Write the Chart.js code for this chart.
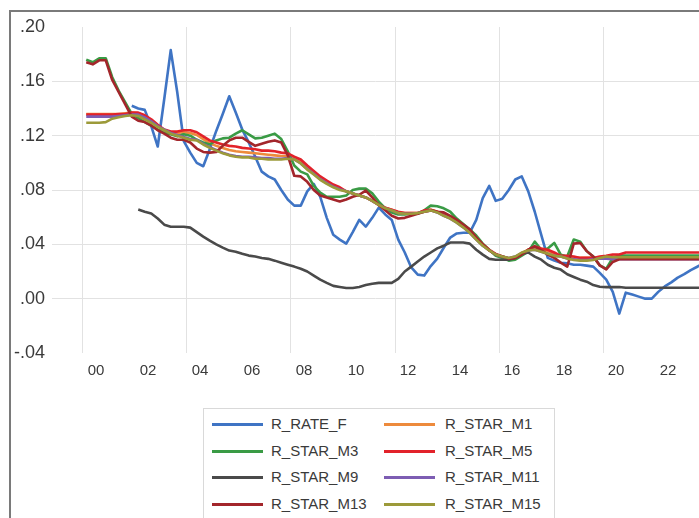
<!DOCTYPE html>
<html>
<head>
<meta charset="utf-8">
<script src="https://cdn.jsdelivr.net/npm/chart.js@4/dist/chart.umd.min.js"></script>
<style>
  html, body { margin: 0; padding: 0; background: #fff; }
  #wrap { position: relative; width: 699px; height: 518px; overflow: hidden; background: #fff; }
  #frame { position: absolute; left: 9px; top: 10px; width: 720px; height: 540px;
           border-left: 2px solid #7a7a7a; border-top: 2px solid #7a7a7a; }
  #c { position: absolute; left: 0; top: 0; }
  #legend { position: absolute; left: 203px; top: 408px; width: 350px; height: 130px;
            border: 1px solid #d9d9d9; background: #fff; }
  .item { position: absolute; height: 20px; font-family: "Liberation Sans", Arial, sans-serif;
          font-size: 15px; color: #3a3a3a; line-height: 20px; white-space: nowrap; }
  .sw { position: absolute; top: 9px; width: 51px; height: 2.5px; }
  .lb { position: absolute; top: 0; }
</style>
</head>
<body>
<div id="wrap">
  <div id="frame"></div>
  <canvas id="c" width="699" height="518"></canvas>
  <div id="legend"></div>
</div>
<script>
// ---- categories (quarters 2000Q1 .. 2023Q4) ----
const startYear = 2000;
const quarters = [];
for (let y = startYear; y <= 2023; y++) for (let q = 1; q <= 4; q++) quarters.push(y + "Q" + q);

const xTickYears = [2000, 2002, 2004, 2006, 2008, 2010, 2012, 2014, 2016, 2018, 2020, 2022];
const yTicks = [-0.04, 0.00, 0.04, 0.08, 0.12, 0.16, 0.20];

const seriesNames = ["R_RATE_F", "R_STAR_M1", "R_STAR_M3", "R_STAR_M5", "R_STAR_M9", "R_STAR_M11", "R_STAR_M13", "R_STAR_M15"];
const seriesColors = ["#3f74c4", "#ed8a3c", "#3a9b45", "#e2222a", "#4a4a4a", "#7d5db3", "#a3262b", "#9c9a3a"];

const R_RATE_F = [
  null,null,null,null,null,null,null,.142,
  .140,.139,.127,.112,.147,.183,.152,.116,
  .1075,.100,.0975,.110,.1235,.136,.149,.137,
  .1245,.115,.1045,.0935,.090,.0877,.080,.073,
  .0685,.0685,.079,.0845,.075,.0595,.047,.0435,
  .0405,.049,.058,.053,.0595,.067,.062,.058,
  .0435,.034,.023,.0177,.017,.024,.0295,.0375,
  .045,.048,.0485,.0485,.058,.074,.083,.072,
  .0735,.080,.0877,.090,.079,.064,.047,.030,
  .028,.0265,.026,.025,.025,.0243,.0236,.019,
  .014,.005,-.011,.0044,.003,.0015,.000,.000,
  .005,.009,.012,.0155,.018,.021,.0235,.026
];
const R_STAR_M1 = [
  .136,.136,.136,.136,.136,.136,.1365,.137,
  .1365,.1345,.1315,.1275,.124,.1225,.122,.1225,
  .122,.1205,.1175,.1145,.1125,.111,.1095,.1085,
  .108,.1075,.107,.1065,.106,.1055,.105,.105,
  .1035,.101,.097,.093,.089,.086,.083,.081,
  .079,.0775,.076,.0745,.072,.069,.067,.0655,
  .0635,.063,.063,.063,.0645,.0655,.064,.0615,
  .0595,.0565,.053,.049,.044,.0395,.0355,.0325,
  .031,.0295,.0305,.0335,.036,.0375,.036,.035,
  .033,.0315,.031,.0305,.030,.030,.030,.0305,
  .031,.031,.031,.031,.031,.031,.031,.031,
  .031,.031,.031,.031,.031,.031,.031,.031
];
const R_STAR_M3 = [
  .176,.174,.177,.177,.163,.153,.1445,.136,
  .133,.130,.1275,.1245,.122,.121,.1195,.121,
  .120,.117,.115,.1135,.1165,.118,.1185,.1215,
  .124,.121,.118,.1185,.120,.1215,.1175,.1085,
  .098,.0935,.0915,.083,.078,.075,.075,.075,
  .076,.080,.081,.081,.0775,.0715,.0665,.0635,
  .062,.062,.0625,.0625,.065,.0685,.068,.0665,
  .064,.059,.055,.051,.0465,.0405,.036,.0315,
  .030,.028,.0287,.0317,.0346,.042,.036,.037,
  .041,.0324,.031,.0435,.042,.035,.031,.0245,
  .022,.030,.0318,.0318,.0318,.0318,.0318,.0318,
  .0318,.0318,.0318,.0318,.0318,.0318,.0318,.0318
];
const R_STAR_M5 = [
  .1355,.1355,.1355,.1355,.1355,.136,.136,.137,
  .137,.135,.132,.128,.1245,.123,.123,.124,
  .124,.1225,.1195,.1165,.115,.1135,.1125,.112,
  .111,.1105,.110,.109,.109,.1085,.1075,.107,
  .1045,.1025,.098,.094,.090,.087,.084,.082,
  .079,.0775,.076,.0745,.072,.069,.067,.0655,
  .064,.063,.063,.063,.065,.0655,.064,.062,
  .0595,.057,.053,.050,.045,.040,.036,.033,
  .031,.0295,.030,.033,.036,.0385,.037,.036,
  .034,.0315,.0315,.031,.030,.030,.030,.031,
  .0315,.0325,.0325,.034,.034,.034,.034,.034,
  .034,.034,.034,.034,.034,.034,.034,.034
];
const R_STAR_M9 = [
  null,null,null,null,null,null,null,null,
  .0656,.064,.0627,.059,.0545,.053,.053,.053,
  .0523,.049,.0457,.0427,.040,.0376,.0354,.0346,
  .033,.0317,.031,.030,.0293,.028,.0265,.025,
  .0236,.022,.020,.017,.014,.0116,.0094,.0086,
  .0079,.0079,.0086,.010,.011,.0116,.0116,.0116,
  .0145,.020,.0236,.0273,.031,.034,.037,.039,
  .0413,.0413,.0413,.0405,.036,.0324,.0293,.0287,
  .0287,.0287,.030,.033,.034,.031,.0287,.025,
  .0228,.0214,.018,.016,.014,.0125,.010,.0088,
  .0085,.0085,.0086,.008,.008,.008,.008,.008,
  .008,.008,.008,.008,.008,.008,.008,.008
];
const R_STAR_M11 = [
  .134,.134,.134,.134,.134,.1345,.135,.1355,
  .1355,.1335,.1305,.127,.1245,.122,.1205,.119,
  .1175,.117,.114,.1115,.1095,.1075,.106,.105,
  .1045,.1045,.104,.1035,.1035,.103,.103,.1035,
  .1025,.0995,.0955,.092,.088,.085,.0825,.0805,
  .079,.0775,.076,.0745,.072,.069,.0665,.065,
  .063,.0625,.0625,.063,.064,.065,.0635,.061,
  .059,.056,.0525,.0485,.0435,.039,.0355,.0325,
  .031,.030,.031,.0335,.0355,.036,.0345,.033,
  .0315,.031,.0295,.029,.0285,.0285,.029,.0295,
  .0295,.029,.029,.029,.029,.029,.029,.029,
  .029,.029,.029,.029,.029,.029,.029,.029
];
const R_STAR_M13 = [
  .174,.1725,.1755,.1755,.161,.152,.143,.134,
  .131,.130,.1275,.124,.1215,.1185,.117,.117,
  .115,.1105,.108,.1075,.108,.1125,.1165,.1185,
  .1185,.1155,.1125,.114,.1155,.1165,.115,.1055,
  .0905,.090,.086,.080,.076,.0745,.073,.0715,
  .073,.075,.0765,.0795,.0745,.069,.065,.061,
  .059,.0595,.061,.0625,.064,.065,.064,.0635,
  .061,.058,.0545,.051,.045,.040,.0355,.0325,
  .031,.0295,.030,.0325,.036,.0385,.0355,.0324,
  .030,.0265,.0236,.0405,.041,.035,.031,.0245,
  .0215,.027,.029,.029,.029,.029,.029,.029,
  .029,.029,.029,.029,.029,.029,.029,.029
];
const R_STAR_M15 = [
  .1295,.1295,.1295,.130,.1325,.1335,.1345,.135,
  .1345,.132,.1295,.1265,.124,.1215,.120,.1185,
  .117,.1165,.1135,.111,.109,.107,.1055,.1045,
  .104,.104,.103,.103,.1025,.1025,.1025,.103,
  .1025,.0995,.095,.0915,.0875,.0845,.082,.080,
  .079,.0775,.076,.0745,.072,.069,.0665,.065,
  .063,.0625,.0625,.063,.064,.065,.0635,.061,
  .059,.056,.0525,.0485,.0435,.039,.0355,.0325,
  .031,.030,.031,.034,.0355,.036,.0345,.033,
  .0315,.031,.0295,.0285,.028,.028,.0285,.030,
  .031,.0305,.0305,.0305,.0305,.0305,.0305,.0305,
  .0305,.0305,.0305,.0305,.0305,.0305,.0305,.0305
];
const seriesValues = [R_RATE_F, R_STAR_M1, R_STAR_M3, R_STAR_M5, R_STAR_M9, R_STAR_M11, R_STAR_M13, R_STAR_M15];

// quarter label -> position in years (middle of the quarter)
function qPos(label) {
  const y = parseInt(label.slice(0, 4), 10), q = parseInt(label.slice(5), 10);
  return y + (q - 0.5) / 4;
}

const datasets = seriesNames.map((name, k) => ({
  label: name,
  data: quarters.map((ql, i) => ({ x: qPos(ql), y: seriesValues[k][i] })),
  borderColor: seriesColors[k],
  backgroundColor: seriesColors[k],
  borderWidth: 2.6,
  pointRadius: 0,
  tension: 0,
  fill: false,
  borderJoinStyle: 'round',
  order: seriesNames.length - k
}));

const fmt = v => {
  const s = Math.abs(v).toFixed(2).replace(/^0/, '');
  return (v < -1e-9 ? '-' : '') + s;
};

new Chart(document.getElementById('c'), {
  type: 'line',
  data: { datasets },
  options: {
    responsive: false,
    animation: false,
    events: [],
    layout: { padding: { left: 10, top: 27, right: 0, bottom: 135 } },
    plugins: { legend: { display: false }, tooltip: { enabled: false } },
    scales: {
      x: {
        type: 'linear',
        min: 1998.808,
        max: 2023.692,
        afterBuildTicks: s => { s.ticks = xTickYears.map(v => ({ value: v })); },
        afterFit: s => { s.height = 30; },
        border: { display: false },
        grid: {
          drawTicks: false,
          lineWidth: 1,
          color: c => (c.tick && c.tick.value % 4 === 0 && c.tick.value <= 2020) ? '#e2e2e2' : 'rgba(0,0,0,0)'
        },
        ticks: {
          autoSkip: false, maxRotation: 0, minRotation: 0,
          labelOffset: 13, padding: 9,
          color: '#3a3a3a',
          font: { family: "'Liberation Sans', Arial, sans-serif", size: 15 },
          callback: v => String(Math.round(v) % 100).padStart(2, '0')
        }
      },
      y: {
        min: -0.04, max: 0.20,
        afterBuildTicks: s => { s.ticks = yTicks.map(v => ({ value: v })); },
        afterFit: s => { s.width = 42; },
        border: { display: false },
        grid: {
          drawTicks: false,
          lineWidth: 1,
          color: c => (c.tick && (Math.abs(c.tick.value - 0.20) < 1e-6 || Math.abs(c.tick.value + 0.04) < 1e-6)) ? 'rgba(0,0,0,0)' : '#e2e2e2'
        },
        ticks: {
          padding: 7,
          color: '#3a3a3a',
          font: { family: "'Liberation Sans', Arial, sans-serif", size: 18 },
          callback: v => fmt(v)
        }
      }
    }
  }
});

// ---- legend (HTML, two columns) ----
const legend = document.getElementById('legend');
const rowY = [5, 32, 58, 85];
const colX = [[8, 67], [180, 241]];
seriesNames.forEach((name, k) => {
  const r = Math.floor(k / 2), c = k % 2;
  const it = document.createElement('div');
  it.className = 'item';
  it.style.top = rowY[r] + 'px';
  it.style.left = colX[c][0] + 'px';
  it.innerHTML = '<div class="sw" style="left:0;background:' + seriesColors[k] + '"></div>' +
                 '<div class="lb" style="left:' + (colX[c][1] - colX[c][0]) + 'px">' + name + '</div>';
  legend.appendChild(it);
});
</script>
</body>
</html>
